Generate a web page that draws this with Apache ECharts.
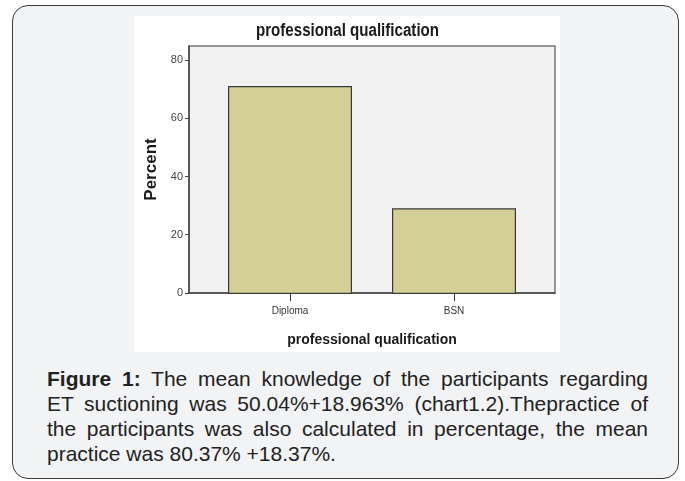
<!DOCTYPE html>
<html>
<head>
<meta charset="utf-8">
<script src="https://cdn.jsdelivr.net/npm/echarts@6/dist/echarts.min.js"></script>
<style>
  body { margin: 0; background: #ffffff; width: 685px; height: 481px; overflow: hidden; position: relative; }
  .box {
    position: absolute; left: 12px; top: 5px; width: 665px; height: 472px;
    border: 1.5px solid #3a3a3a; border-radius: 16px; background: #f2f3f5;
  }
  #chart { position: absolute; left: 134px; top: 16px; width: 426px; height: 336px; background: #ffffff; }
  .caption {
    position: absolute; left: 47px; top: 366px; width: 601px;
    font-family: "Liberation Sans", Arial, sans-serif; font-size: 21px; line-height: 25px; color: #222;
  }
  .caption div { text-align: justify; text-align-last: justify; white-space: nowrap; }
  .caption div.last { text-align-last: left; }
</style>
</head>
<body>
<div class="box"></div>
<div id="chart"></div>
<div class="caption">
  <div><b>Figure 1:</b> The mean knowledge of the participants regarding</div>
  <div>ET suctioning was 50.04%+18.963% (chart1.2).Thepractice of</div>
  <div>the participants was also calculated in percentage, the mean</div>
  <div class="last">practice was 80.37% +18.37%.</div>
</div>
<script>
// 数据
const categories = ['Diploma', 'BSN']
const percentValues = [71.1, 29.3]
const yTickValues = [0, 20, 40, 60, 80]
const yMax = 84.8 // SPSS 外框比最后一个刻度略高

const font = '"Liberation Sans", Arial, sans-serif'

var myChart = echarts.init(document.getElementById('chart'))
var option = {
  animation: false,
  graphic: [
    {
      // 标题字体比较窄，用 scaleX 压一下
      type: 'text',
      x: 213.5,
      y: 15,
      scaleX: 0.84,
      style: {
        text: 'professional qualification',
        align: 'center',
        verticalAlign: 'middle',
        font: 'bold 18px "Liberation Sans", Arial, sans-serif',
        fill: '#1a1a1a'
      }
    }
  ],
  grid: [
    // 外框 + 灰色背景
    { left: 55, right: 5, top: 30, bottom: 58, show: true, backgroundColor: '#f1f1f1', borderColor: '#777', borderWidth: 1.5 },
    // 柱子所在区域
    { left: 74, right: 24, top: 30, bottom: 58 }
  ],
  xAxis: [
    {
      gridIndex: 0, type: 'value', min: 0, max: 1,
      axisLine: { show: true, onZero: false, lineStyle: { color: '#444', width: 1.5 } },
      axisTick: { show: false }, axisLabel: { show: false }, splitLine: { show: false },
      name: 'professional qualification', nameLocation: 'middle', nameGap: 40,
      nameTextStyle: { fontFamily: font, fontSize: 14, fontWeight: 'bold', color: '#1a1a1a' }
    },
    {
      gridIndex: 1, type: 'category', data: categories,
      axisLine: { show: false },
      axisTick: { show: true, alignWithLabel: true, length: 7, lineStyle: { color: '#333' } },
      axisLabel: { fontFamily: font, fontSize: 10, color: '#333', margin: 12 }
    }
  ],
  yAxis: [
    {
      gridIndex: 0, type: 'value', min: 0, max: yMax,
      axisLine: { show: true, lineStyle: { color: '#444', width: 1.5 } },
      axisTick: { show: true, length: 4, customValues: yTickValues, lineStyle: { color: '#444' } },
      axisLabel: { fontFamily: font, fontSize: 11, color: '#444', margin: 6, customValues: yTickValues },
      splitLine: { show: false },
      name: 'Percent', nameLocation: 'middle', nameGap: 26,
      nameTextStyle: { fontFamily: font, fontSize: 17, fontWeight: 'bold', color: '#1a1a1a' }
    },
    {
      gridIndex: 1, type: 'value', min: 0, max: yMax, show: false
    }
  ],
  series: [
    {
      name: 'Percent',
      type: 'bar',
      xAxisIndex: 1,
      yAxisIndex: 1,
      barWidth: 124,
      data: percentValues,
      itemStyle: { color: '#d3cf97', borderColor: '#3a3a3a', borderWidth: 1.2 }
    }
  ]
}
myChart.setOption(option)
</script>
</body>
</html>
